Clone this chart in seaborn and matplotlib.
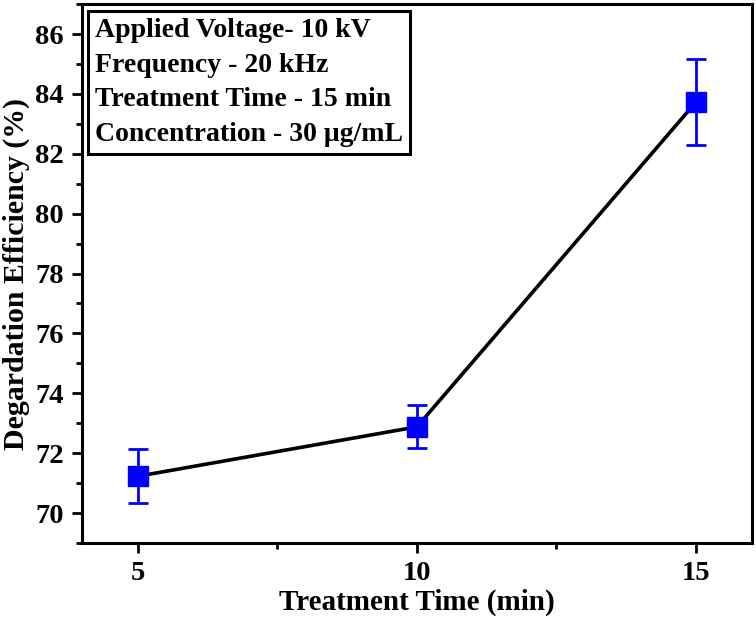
import numpy as np
import pandas as pd
import seaborn as sns
import matplotlib.pyplot as plt
from matplotlib.ticker import MultipleLocator

# Data
time_min = [5, 10, 15]
efficiency = [71.23, 72.88, 83.73]
efficiency_err = [0.9, 0.72, 1.42]
x_ticks = [5, 10, 15]
y_ticks = [70, 72, 74, 76, 78, 80, 82, 84, 86]
info_lines = [
    "Applied Voltage- 10 kV",
    "Frequency - 20 kHz",
    "Treatment Time - 15 min",
    "Concentration - 30 μg/mL",
]

df = pd.DataFrame({"time": time_min, "eff": efficiency, "err": efficiency_err})

sns.set_style("ticks", {"axes.edgecolor": "black", "text.color": "black",
                        "axes.labelcolor": "black", "xtick.color": "black",
                        "ytick.color": "black"})
plt.rcParams["font.family"] = ["Liberation Serif", "DejaVu Serif"]
plt.rcParams["font.weight"] = "bold"

fig = plt.figure(figsize=(7.56, 6.23), dpi=100)
ax = fig.add_axes([0.1085, 0.1284, 0.886, 0.865])

# Connecting line
sns.lineplot(data=df, x="time", y="eff", color="black", linewidth=2.6, ax=ax,
             zorder=2)

# Square markers with error bars
ax.errorbar(df["time"], df["eff"], yerr=df["err"], fmt="s", color="#0000FF",
            markersize=14, elinewidth=2, capsize=7.5, capthick=2, zorder=3)

ax.set_xlim(4, 16)
ax.set_ylim(69, 87)
ax.set_xticks(x_ticks)
ax.set_yticks(y_ticks)
ax.xaxis.set_minor_locator(MultipleLocator(2.5))
ax.yaxis.set_minor_locator(MultipleLocator(1))

ax.tick_params(which="major", direction="out", length=7, width=2,
               labelsize=20.5, pad=6, colors="black")
ax.tick_params(which="minor", direction="out", length=4, width=2,
               colors="black")
for lab in ax.get_xticklabels() + ax.get_yticklabels():
    lab.set_fontweight("bold")

for side in ["left", "right", "top", "bottom"]:
    ax.spines[side].set_visible(True)
    ax.spines[side].set_linewidth(2.2)
    ax.spines[side].set_color("black")

ax.set_xlabel("Treatment Time (min)", fontsize=21, fontweight="bold",
              labelpad=2, color="black")
ax.set_ylabel("Degardation Efficiency (%)", fontsize=21.5, fontweight="bold",
              labelpad=4, color="black")

# Info box in the upper-left corner
ax.text(0.0194, 0.974, "\n".join(info_lines), transform=ax.transAxes,
        ha="left", va="top", fontsize=20, fontweight="bold",
        linespacing=1.5, color="black",
        bbox=dict(boxstyle="square,pad=0.25", facecolor="white",
                  edgecolor="black", linewidth=2.2))

fig.savefig("out.png", dpi=100)
